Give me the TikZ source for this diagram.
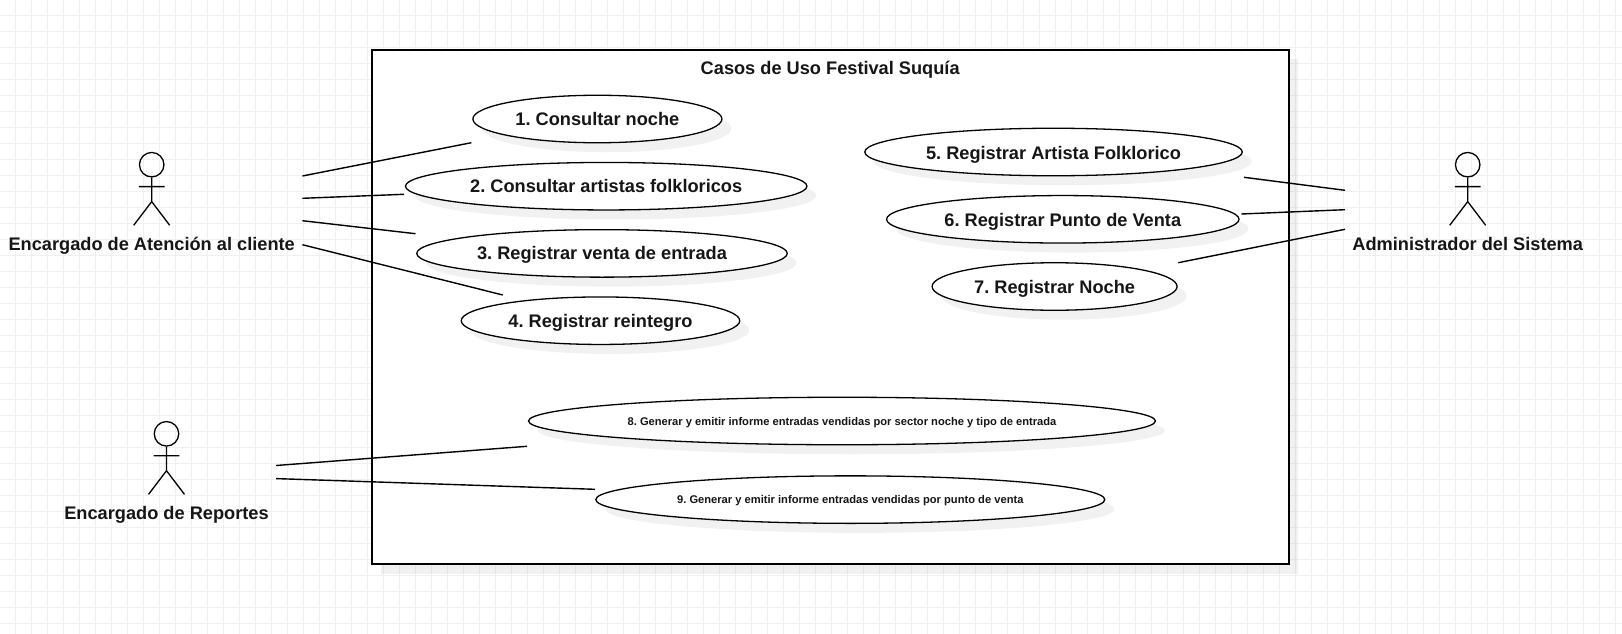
\documentclass[tikz,border=0pt]{standalone}
\usepackage{fontspec}
\setmainfont{Liberation Sans}
\usetikzlibrary{shapes.geometric,shadows}
\definecolor{gridc}{HTML}{F0F0F0}
\definecolor{inkc}{HTML}{161616}
\tikzset{
  lbl/.style={font=\frenchspacing\fontsize{18.2}{22}\selectfont\bfseries,text=inkc,inner sep=0pt,text height=13pt,text depth=0pt},
  small/.style={font=\frenchspacing\fontsize{11.15}{13}\selectfont\bfseries,text=inkc,inner sep=0pt,text height=8pt,text depth=0pt},
  softshadow/.style={drop shadow={shadow xshift=9.5pt,shadow yshift=-9.5pt,fill=black,opacity=0.055}},
  usecase/.style={ellipse,draw=black,line width=1.3pt,fill=white,inner sep=0pt,minimum height=47.5pt,softshadow},
  sysbox/.style={rectangle,draw=black,line width=1.7pt,fill=white,inner sep=0pt,softshadow},
  link/.style={draw=black,line width=1.4pt},
  stick/.style={draw=black,line width=1.3pt},
}
\newcommand{\stickman}[4]{%
  \coordinate (#1) at (#2,#3);
  \node[circle,stick,minimum size=24.5pt,inner sep=0pt] (#1head) at (#2,#3+0.4) {};
  \draw[stick] (#1head.south) -- ++(0,24) coordinate (#1hip)
    (#1head.south) ++(-12.8,9) -- ++(25.6,0)
    (#1hip) -- ++(-18,23.7) (#1hip) -- ++(18,23.7);
  \node[lbl] (#1label) at (#2,#3+79.7) {#4};
}
\begin{document}
\begin{tikzpicture}[x=1pt,y=-1pt]
\useasboundingbox (0,0) rectangle (1622,634);
\fill[white] (0,0) rectangle (1622,634);
\foreach \i in {0,...,101} \draw[gridc,line width=1pt] ({15.5+16*\i},0) -- ({15.5+16*\i},634);
\foreach \i in {0,...,39} \draw[gridc,line width=1pt] (0,{15.5+16*\i}) -- (1622,{15.5+16*\i});

\node[sysbox,minimum width=917pt,minimum height=514pt] (system) at (830.2,307) {};
\node[lbl] (title) at (830.2,67.8) {Casos de Uso Festival Suquía};

\node[usecase,minimum width=249pt] (uc1) at (597.4,119) {};
\node[lbl] at (uc1) {1. Consultar noche};
\node[usecase,minimum width=401.5pt] (uc2) at (606.2,186.2) {};
\node[lbl] at (uc2) {2. Consultar artistas folkloricos};
\node[usecase,minimum width=370.5pt] (uc3) at (602,253.4) {};
\node[lbl] at (uc3) {3. Registrar venta de entrada};
\node[usecase,minimum width=278.5pt] (uc4) at (600.5,320.7) {};
\node[lbl] at (uc4) {4. Registrar reintegro};
\node[usecase,minimum width=377.5pt] (uc5) at (1053.5,152) {};
\node[lbl,yshift=-1.2pt] at (uc5) {5. Registrar Artista Folklorico};
\node[usecase,minimum width=352.5pt] (uc6) at (1062.8,219.3) {};
\node[lbl,yshift=-0.8pt] at (uc6) {6. Registrar Punto de Venta};
\node[usecase,minimum width=245pt] (uc7) at (1054.6,286.5) {};
\node[lbl] at (uc7) {7. Registrar Noche};
\node[usecase,minimum width=627pt] (uc8) at (842,421) {};
\node[small] at (uc8) {8. Generar y emitir informe entradas vendidas por sector noche y tipo de entrada};
\node[usecase,minimum width=509pt] (uc9) at (850.3,499.6) {};
\node[small] at (uc9) {9. Generar y emitir informe entradas vendidas por punto de venta};

\stickman{clerk}{151.7}{164.3}{Encargado de Atención al cliente}
\stickman{admin}{1467.7}{164.3}{Administrador del Sistema}
\stickman{rep}{166.5}{433.4}{Encargado de Reportes}

\coordinate (a1) at (302.4,176);   \coordinate (b1) at (471.4,142.7);
\coordinate (a2) at (302.4,198.3); \coordinate (b2) at (404,194.3);
\coordinate (a3) at (302.4,220.7); \coordinate (b3) at (415.5,233.7);
\coordinate (a4) at (302.4,244.7); \coordinate (b4) at (502.8,295);
\coordinate (a5) at (1345,190.3);  \coordinate (b5) at (1244,177.3);
\coordinate (a6) at (1345,209.7);  \coordinate (b6) at (1241.3,214);
\coordinate (a7) at (1345,229.3);  \coordinate (b7) at (1178.3,262.7);
\coordinate (a8) at (276.2,465.5); \coordinate (b8) at (527,446.3);
\coordinate (a9) at (276.2,478.6); \coordinate (b9) at (595,489.3);
\foreach \n in {1,...,9} \draw[link] (a\n) -- (b\n);
\end{tikzpicture}
\end{document}
